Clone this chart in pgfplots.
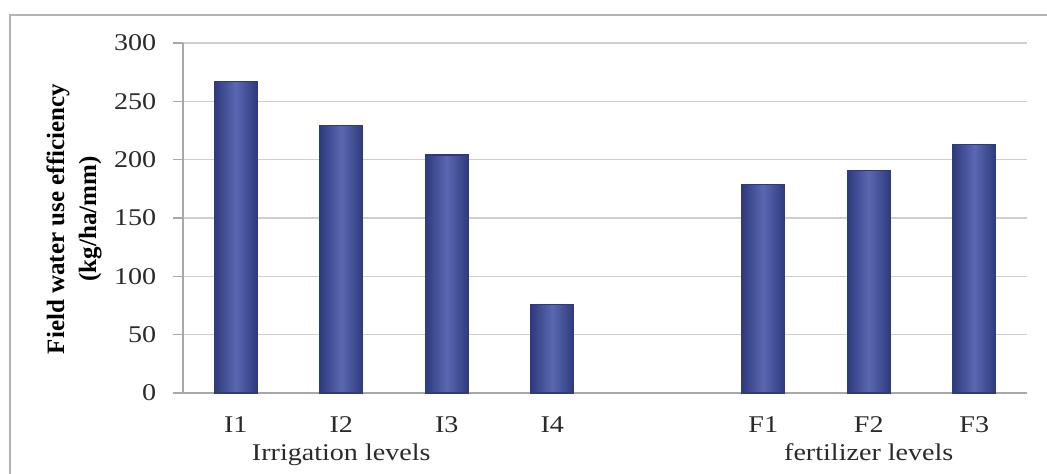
\documentclass[border=0pt]{standalone}
\usepackage{fontspec}
\setmainfont{Liberation Serif}
\usepackage{pgfplots}
\pgfplotsset{compat=1.18}
\definecolor{barMid}{HTML}{5A68B2}
\definecolor{barEdge}{HTML}{2E3A7C}
\definecolor{gridc}{HTML}{CFCFCF}
\definecolor{axisc}{HTML}{A8A8A8}
\definecolor{framec}{HTML}{B4B4B4}
\definecolor{txt}{HTML}{2A2A2A}

% one shaded bar per category
\pgfplotsset{shadedbar/.style={draw=barEdge, line width=0.6pt, bar shift=0pt,
  left color=barEdge, right color=barEdge, middle color=barMid}}

\begin{document}
\begin{tikzpicture}
\useasboundingbox (0pt,0pt) rectangle (523.5pt,237pt);
% outer chart frame
\draw[framec, line width=0.9pt] (5pt,0pt) -- (5pt,229.5pt) -- (523.5pt,229.5pt);

\begin{axis}[
  at={(91.5pt,40.5pt)}, anchor=south west,
  scale only axis, width=422pt, height=175pt,
  ybar, bar width=0.41,
  xmin=-0.5, xmax=7.5, ymin=0, ymax=300,
  enlargelimits=false,
  ytick={0,50,...,300},
  xtick={0,1,2,3,5,6,7},
  xticklabels={I1,I2,I3,I4,F1,F2,F3},
  axis x line*=bottom, axis y line*=left,
  axis line style={axisc, line width=0.8pt},
  ymajorgrids, grid style={gridc, line width=0.8pt},
  tick align=outside, major tick length=5pt,
  y tick style={axisc, line width=0.8pt},
  x tick style={draw=none},
  /pgf/number format/assume math mode=true,
  tick label style={font=\fontsize{12}{14}\selectfont, text=txt, xscale=1.17},
  yticklabel style={anchor=east, inner sep=0pt, xshift=-7pt},
  xticklabel style={anchor=center, yshift=-11pt},
  clip=false,
]
\addplot[shadedbar] coordinates {(0,267)};
\addplot[shadedbar] coordinates {(1,229)};
\addplot[shadedbar] coordinates {(2,204)};
\addplot[shadedbar] coordinates {(3,76)};
\addplot[shadedbar] coordinates {(5,179)};
\addplot[shadedbar] coordinates {(6,191)};
\addplot[shadedbar] coordinates {(7,213)};

\node[font=\fontsize{12}{14}\selectfont, text=txt, xscale=1.17, anchor=base] at (axis cs:1,0) [yshift=-34pt] {Irrigation levels};
\node[font=\fontsize{12}{14}\selectfont, text=txt, xscale=1.17, anchor=base] at (axis cs:6,0) [yshift=-34pt] {fertilizer levels};
\end{axis}

\node[rotate=90, align=center, font=\bfseries\fontsize{12.5}{16}\selectfont] at (37pt,127.5pt)
  {Field water use efficiency\\(kg/ha/mm)};
\end{tikzpicture}
\end{document}
